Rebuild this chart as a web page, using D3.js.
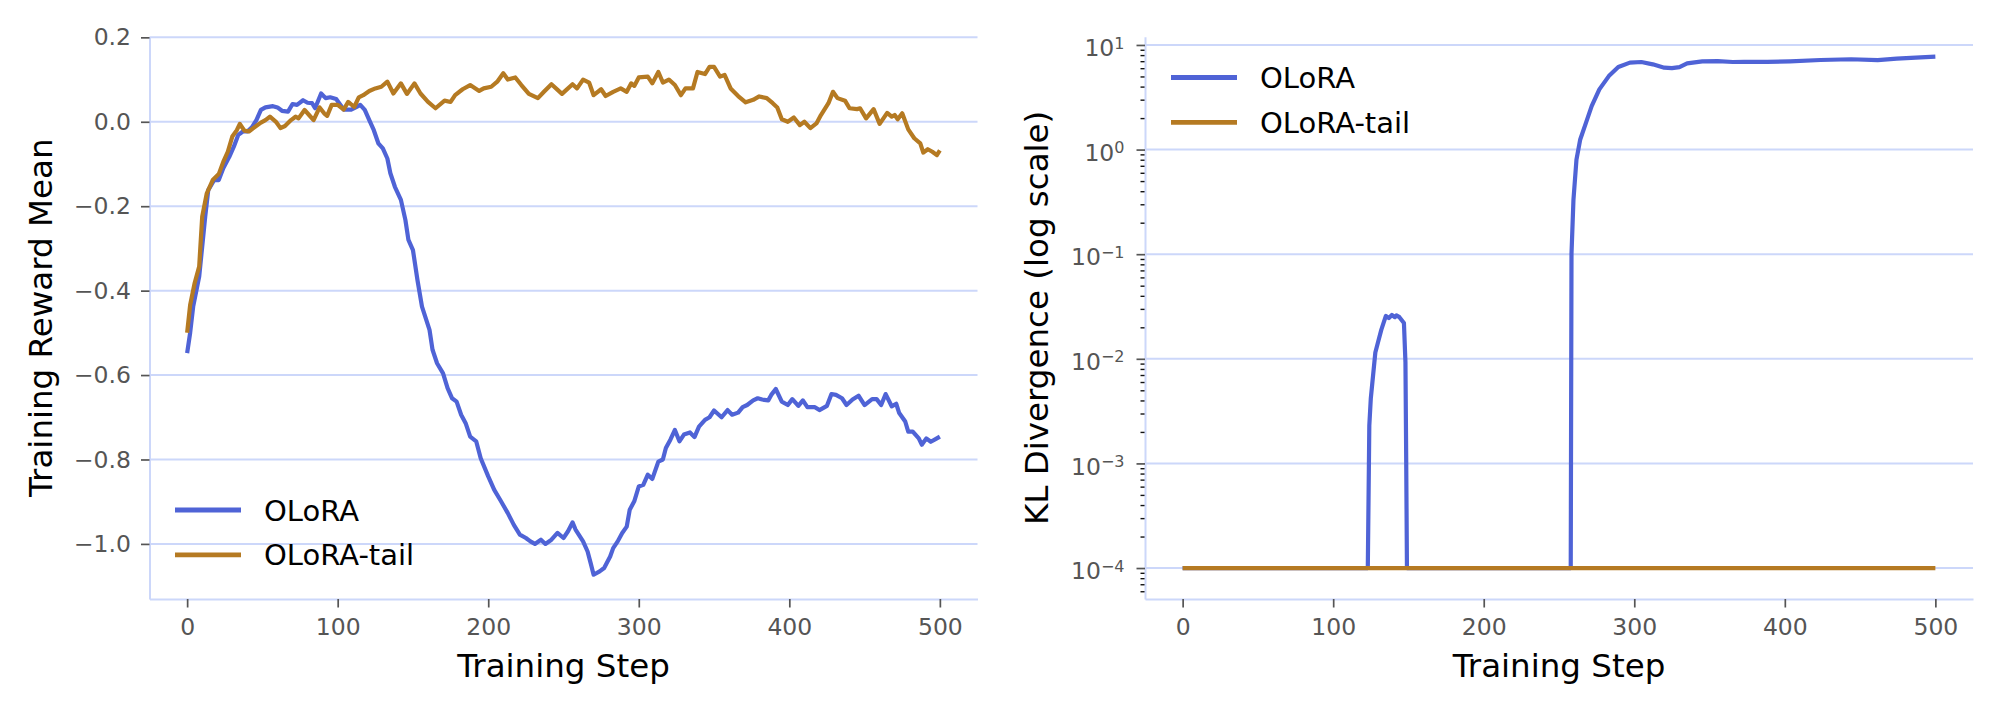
<!DOCTYPE html>
<html><head><meta charset="utf-8">
<script src="https://cdn.jsdelivr.net/npm/d3@7"></script>
<style>
html,body{margin:0;padding:0;background:#fff;}
svg{display:block;font-family:"DejaVu Sans",sans-serif;}
</style></head>
<body>
<svg id="chart" width="2000" height="714"></svg>
<script>
// ---------------- DATA ----------------
const seriesNames = ["OLoRA", "OLoRA-tail"];
const xTickValues = [0, 100, 200, 300, 400, 500];
const rewardTickValues = [-1.0, -0.8, -0.6, -0.4, -0.2, 0.0, 0.2];
const klTickValues = [1e-4, 1e-3, 1e-2, 1e-1, 1e0, 1e1];
const klTickExponents = ["−4", "−3", "−2", "−1", "0", "1"];

// [step, reward]
const oloraReward = [[0,-0.548],[2,-0.50],[4,-0.438],[8,-0.367],[10,-0.296],[12,-0.225],[14,-0.162],[18,-0.138],[21,-0.138],[24,-0.110],[28,-0.083],[31,-0.059],[34,-0.031],[37,-0.023],[40,-0.023],[43,-0.013],[46,0.004],[49,0.028],[52,0.034],[57,0.037],[60,0.034],[63,0.026],[67,0.024],[70,0.042],[73,0.040],[77,0.051],[80,0.045],[83,0.044],[85,0.032],[89,0.067],[92,0.056],[95,0.058],[99,0.054],[101,0.044],[104,0.029],[109,0.029],[112,0.034],[115,0.040],[118,0.028],[121,0.004],[124,-0.020],[127,-0.051],[130,-0.063],[133,-0.087],[135,-0.122],[138,-0.154],[142,-0.185],[145,-0.233],[147,-0.280],[150,-0.304],[153,-0.375],[156,-0.438],[161,-0.493],[163,-0.540],[166,-0.572],[170,-0.596],[173,-0.631],[176,-0.655],[179,-0.663],[182,-0.694],[185,-0.714],[188,-0.746],[192,-0.757],[195,-0.797],[200,-0.840],[204,-0.872],[208,-0.896],[213,-0.927],[217,-0.955],[221,-0.978],[225,-0.986],[228,-0.994],[231,-1.000],[235,-0.990],[238,-1.000],[242,-0.990],[246,-0.974],[250,-0.986],[253,-0.970],[256,-0.949],[258,-0.966],[263,-0.994],[266,-1.018],[268,-1.045],[270,-1.073],[274,-1.065],[277,-1.057],[281,-1.030],[283,-1.010],[286,-0.994],[289,-0.974],[292,-0.959],[294,-0.919],[297,-0.899],[300,-0.864],[303,-0.860],[306,-0.836],[309,-0.846],[313,-0.805],[316,-0.800],[318,-0.773],[321,-0.753],[324,-0.730],[327,-0.757],[330,-0.741],[334,-0.736],[337,-0.747],[340,-0.722],[344,-0.706],[347,-0.700],[350,-0.684],[355,-0.700],[359,-0.683],[362,-0.694],[366,-0.689],[369,-0.676],[372,-0.671],[376,-0.660],[379,-0.655],[382,-0.658],[386,-0.660],[388,-0.647],[391,-0.633],[395,-0.663],[399,-0.671],[402,-0.657],[406,-0.673],[409,-0.660],[412,-0.676],[417,-0.676],[420,-0.683],[425,-0.673],[428,-0.645],[431,-0.647],[435,-0.655],[438,-0.671],[442,-0.658],[446,-0.649],[450,-0.671],[455,-0.657],[458,-0.657],[461,-0.671],[464,-0.645],[468,-0.674],[471,-0.668],[473,-0.690],[477,-0.710],[479,-0.734],[482,-0.734],[486,-0.750],[488,-0.765],[491,-0.750],[494,-0.758],[498,-0.750],[500,-0.746]];

const tailReward = [[0,-0.50],[2,-0.434],[5,-0.382],[8,-0.343],[10,-0.225],[13,-0.170],[17,-0.138],[21,-0.124],[24,-0.095],[27,-0.071],[30,-0.035],[33,-0.020],[35,-0.005],[38,-0.021],[41,-0.023],[44,-0.015],[49,-0.002],[52,0.004],[55,0.012],[59,0.000],[62,-0.015],[65,-0.010],[69,0.004],[72,0.012],[74,0.008],[78,0.028],[81,0.016],[84,0.004],[88,0.034],[91,0.020],[93,0.014],[96,0.040],[100,0.040],[104,0.029],[107,0.047],[111,0.035],[114,0.058],[117,0.063],[121,0.073],[125,0.079],[129,0.083],[133,0.095],[137,0.067],[142,0.091],[146,0.066],[151,0.091],[155,0.067],[160,0.047],[165,0.032],[171,0.050],[175,0.047],[178,0.063],[183,0.077],[188,0.087],[194,0.073],[197,0.079],[202,0.083],[206,0.095],[210,0.115],[213,0.100],[218,0.105],[222,0.087],[227,0.066],[233,0.056],[237,0.071],[242,0.089],[249,0.066],[256,0.089],[259,0.079],[263,0.100],[267,0.093],[270,0.063],[275,0.077],[278,0.061],[283,0.071],[288,0.079],[292,0.071],[295,0.091],[297,0.085],[300,0.105],[306,0.107],[309,0.091],[313,0.118],[316,0.093],[320,0.100],[324,0.087],[328,0.063],[331,0.079],[336,0.079],[339,0.118],[344,0.113],[347,0.130],[350,0.130],[354,0.107],[357,0.111],[361,0.079],[366,0.061],[371,0.046],[376,0.052],[380,0.060],[385,0.056],[389,0.044],[392,0.034],[395,0.006],[399,0.000],[403,0.010],[407,-0.008],[410,0.000],[414,-0.015],[418,-0.004],[421,0.016],[426,0.044],[429,0.071],[432,0.056],[437,0.050],[440,0.032],[445,0.030],[447,0.032],[451,0.008],[456,0.030],[460,-0.005],[465,0.021],[468,0.012],[470,0.016],[472,0.006],[475,0.020],[479,-0.018],[483,-0.039],[487,-0.051],[489,-0.073],[492,-0.065],[495,-0.071],[498,-0.079],[500,-0.068]];

// [step, KL]
const oloraKL = [[0,1e-4],[123,1e-4],[124,2.3e-3],[125,4.2e-3],[128,0.0115],[130,0.0148],[132,0.019],[135,0.0257],[137,0.0245],[139,0.0262],[141,0.025],[142,0.026],[144,0.025],[147,0.022],[148,0.0093],[148.5,1.1e-3],[149,1e-4],[257.8,1e-4],[258.3,0.1],[259.6,0.33],[261.6,0.80],[264.1,1.25],[267.9,1.80],[271.7,2.6],[276.8,3.76],[283.1,5.04],[289.4,6.15],[297.1,6.78],[304.7,6.87],[312.3,6.53],[319.9,6.07],[325,6.0],[330,6.15],[335.1,6.68],[345.2,6.98],[355.4,7.0],[365.5,6.87],[373.1,6.9],[388.3,6.9],[403.5,6.98],[423.7,7.18],[444,7.3],[461.7,7.15],[474.3,7.41],[487,7.57],[500,7.74]];
const tailKL = [[0,1e-4],[500,1e-4]];

// ---------------- STYLE ----------------
const colors = ["#4f63d6", "#b57a22"];
const gridColor = "#ccd7fa";
const tickColor = "#555555";
const FONT = "DejaVu Sans";
const LW = 4.2;

const svg = d3.select("#chart");

const L = {x0:149.5, x1:977.5, y0:36.5, y1:599};
const xL = d3.scaleLinear().domain([-25, 525]).range([L.x0, L.x1]);
const yL = d3.scaleLinear().domain([-1.1305, 0.202]).range([L.y1, L.y0]);

const R = {x0:1145, x1:1973, y0:36.7, y1:599};
const xR = d3.scaleLinear().domain([-25, 525]).range([R.x0, R.x1]);
const yR = d3.scaleLog().domain([Math.pow(10,-4.296), Math.pow(10,1.079)]).range([R.y1, R.y0]);

function grid(g, ys, vals, x0, x1){
  g.selectAll("line.grid").data(vals).enter().append("line")
    .attr("x1", x0).attr("x2", x1)
    .attr("y1", d => ys(d)).attr("y2", d => ys(d))
    .attr("stroke", gridColor).attr("stroke-width", 2);
}

function styleAxis(g){
  g.select(".domain").attr("stroke", gridColor).attr("stroke-width", 2);
  g.selectAll(".tick line").attr("stroke", tickColor).attr("stroke-width", 1.7);
  g.selectAll(".tick text").attr("fill", tickColor).attr("font-family", FONT).attr("font-size", 23.5);
}

// ---------------- LEFT PANEL ----------------
grid(svg.append("g"), yL, rewardTickValues, L.x0, L.x1);

const gxL = svg.append("g").attr("transform", `translate(0,${L.y1})`)
  .call(d3.axisBottom(xL).tickValues(xTickValues).tickSize(8.5).tickSizeOuter(0).tickPadding(11).tickFormat(d3.format("d")));
styleAxis(gxL);
gxL.selectAll(".tick text").attr("dy", "0.71em");

const gyL = svg.append("g").attr("transform", `translate(${L.x0},0)`)
  .call(d3.axisLeft(yL).tickValues(rewardTickValues).tickSize(8.5).tickSizeOuter(0).tickPadding(10).tickFormat(d3.format(".1f")));
styleAxis(gyL);

const lineL = d3.line().x(d => xL(d[0])).y(d => yL(d[1]));
[oloraReward, tailReward].forEach((data, i) => {
  svg.append("path").datum(data).attr("d", lineL)
    .attr("fill", "none").attr("stroke", colors[i]).attr("stroke-width", LW)
    .attr("stroke-linejoin", "round").attr("stroke-linecap", "butt");
});

svg.append("text").attr("x", (L.x0+L.x1)/2).attr("y", 677).attr("text-anchor","middle")
  .attr("font-family", FONT).attr("font-size", 32.5).attr("fill","#000").text("Training Step");
svg.append("text").attr("transform", `translate(52,${(L.y0+L.y1)/2}) rotate(-90)`).attr("text-anchor","middle")
  .attr("font-family", FONT).attr("font-size", 32.5).attr("fill","#000").text("Training Reward Mean");

// ---------------- RIGHT PANEL ----------------
grid(svg.append("g"), yR, klTickValues, R.x0, R.x1);

const gxR = svg.append("g").attr("transform", `translate(0,${R.y1})`)
  .call(d3.axisBottom(xR).tickValues(xTickValues).tickSize(8.5).tickSizeOuter(0).tickPadding(11).tickFormat(d3.format("d")));
styleAxis(gxR);
gxR.selectAll(".tick text").attr("dy", "0.71em");

const minorVals = [];
for (let e = -5; e <= 1; e++) for (let m = 2; m <= 9; m++) {
  const v = m * Math.pow(10, e);
  if (v >= yR.domain()[0] && v <= yR.domain()[1]) minorVals.push(v);
}
const gyRm = svg.append("g").attr("transform", `translate(${R.x0},0)`)
  .call(d3.axisLeft(yR).tickValues(minorVals).tickSize(4.5).tickSizeOuter(0).tickFormat(""));
gyRm.select(".domain").remove();
gyRm.selectAll(".tick line").attr("stroke", "#111").attr("stroke-width", 1.4);

const gyR = svg.append("g").attr("transform", `translate(${R.x0},0)`)
  .call(d3.axisLeft(yR).tickValues(klTickValues).tickSize(8.5).tickSizeOuter(0).tickPadding(11).tickFormat(""));
styleAxis(gyR);
gyR.selectAll(".tick").each(function(d, i){
  const t = d3.select(this).append("text")
    .attr("x", -20.5).attr("y", 10.7).attr("text-anchor", "end")
    .attr("font-family", FONT).attr("fill", tickColor).attr("font-size", 23.5);
  t.append("tspan").text("10");
  t.append("tspan").attr("dy", -7.6).attr("font-size", 16).text(klTickExponents[i]);
});

const lineR = d3.line().x(d => xR(d[0])).y(d => yR(d[1]));
[oloraKL, tailKL].forEach((data, i) => {
  svg.append("path").datum(data).attr("d", lineR)
    .attr("fill", "none").attr("stroke", colors[i]).attr("stroke-width", LW)
    .attr("stroke-linejoin", "round").attr("stroke-linecap", "butt");
});

svg.append("text").attr("x", (R.x0+R.x1)/2).attr("y", 677).attr("text-anchor","middle")
  .attr("font-family", FONT).attr("font-size", 32.5).attr("fill","#000").text("Training Step");
svg.append("text").attr("transform", `translate(1048,${(R.y0+R.y1)/2}) rotate(-90)`).attr("text-anchor","middle")
  .attr("font-family", FONT).attr("font-size", 32.5).attr("fill","#000").text("KL Divergence (log scale)");

// ---------------- LEGENDS ----------------
function legend(x, y){
  const g = svg.append("g");
  seriesNames.forEach((name, i) => {
    const yy = y + i * 44.8;
    g.append("line").attr("x1", x).attr("x2", x + 66).attr("y1", yy).attr("y2", yy)
      .attr("stroke", colors[i]).attr("stroke-width", 4.8);
    g.append("text").attr("x", x + 89).attr("y", yy + 10.5)
      .attr("font-family", FONT).attr("font-size", 29).attr("fill", "#000").text(name);
  });
}
legend(175, 510);
legend(1171, 77.5);
</script>
</body></html>
